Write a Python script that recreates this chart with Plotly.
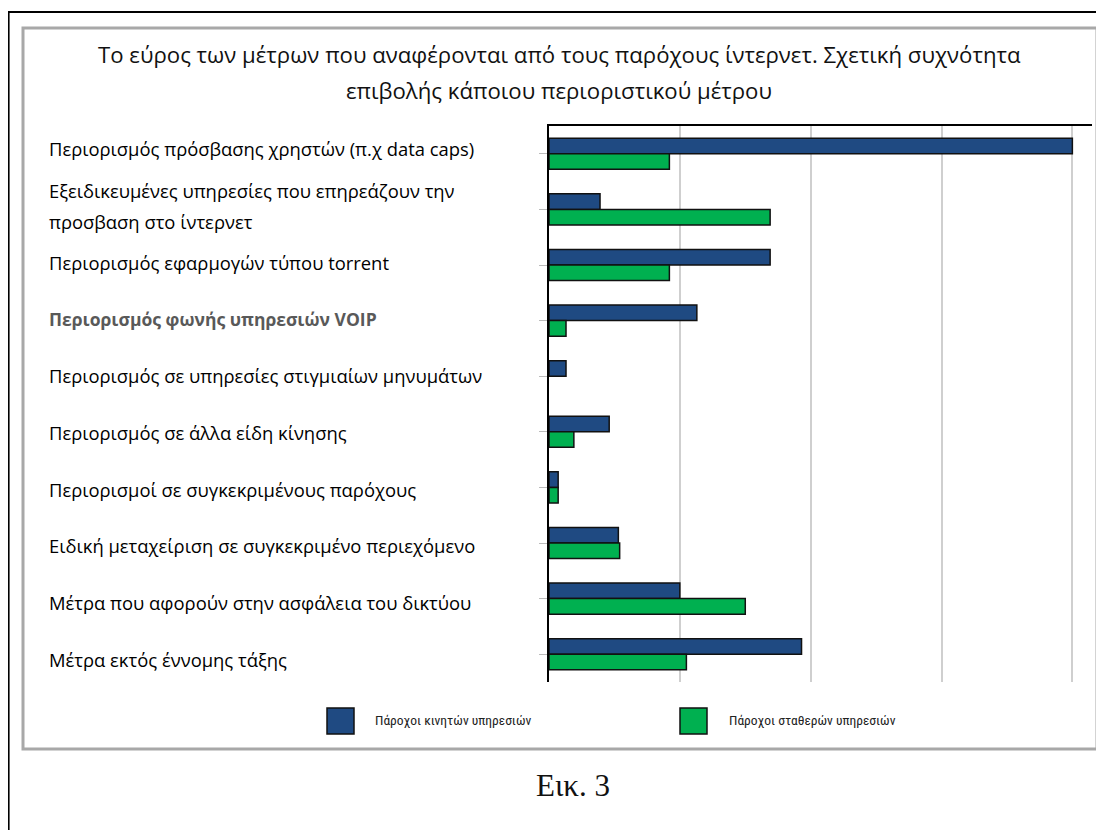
import plotly.graph_objects as go

categories = [
    "Περιορισμός πρόσβασης χρηστών (π.χ data caps)",
    "Εξειδικευμένες υπηρεσίες που επηρεάζουν την<br>προσβαση στο ίντερνετ",
    "Περιορισμός εφαρμογών τύπου torrent",
    "Περιορισμός φωνής υπηρεσιών VOIP",
    "Περιορισμός σε υπηρεσίες στιγμιαίων μηνυμάτων",
    "Περιορισμός σε άλλα είδη κίνησης",
    "Περιορισμοί σε συγκεκριμένους παρόχους",
    "Ειδική μεταχείριση σε συγκεκριμένο περιεχόμενο",
    "Μέτρα που αφορούν στην ασφάλεια του δικτύου",
    "Μέτρα εκτός έννομης τάξης",
]
mobile = [40.0, 3.9, 16.9, 11.3, 1.3, 4.6, 0.7, 5.3, 10.0, 19.3]
fixed = [9.2, 16.9, 9.2, 1.3, None, 1.9, 0.7, 5.4, 15.0, 10.5]
series_names = ["Πάροχοι κινητών υπηρεσιών", "Πάροχοι σταθερών υπηρεσιών"]
title_lines = [
    "Το εύρος των μέτρων που αναφέρονται από τους παρόχους ίντερνετ. Σχετική συχνότητα",
    "επιβολής κάποιου περιοριστικού μέτρου",
]
caption = "Εικ. 3"

# page has an 8px body margin; work in page pixel coords and convert
OFF = 8
W, H = 1104 - OFF, 830 - OFF
PL, PR, PT, PB = 549, 1092, 126, 682          # plot area in page coords
L, R, T, B = PL - OFF, W - (PR - OFF), PT - OFF, H - (PB - OFF)
PW, PH = W - L - R, H - T - B

def px(x):
    return (x - OFF - L) / PW

def py(y):
    return (H - B - (y - OFF)) / PH

BLUE = "#1f4a82"
GREEN = "#00b050"

fig = go.Figure()
fig.add_trace(go.Bar(y=list(range(len(categories))), x=mobile, orientation="h",
                     name=series_names[0], marker=dict(color=BLUE, line=dict(color="#111111", width=1.5))))
fig.add_trace(go.Bar(y=list(range(len(categories))), x=fixed, orientation="h",
                     name=series_names[1], marker=dict(color=GREEN, line=dict(color="#111111", width=1.5))))

annotations = []
label_font = dict(family="Open Sans, Noto Sans, DejaVu Sans", size=18.4, color="#000000")
LABEL_TOP, LABEL_STEP = 149, 56.7
for i, cat in enumerate(categories):
    lines = cat.split("<br>")
    n = len(lines)
    yc = LABEL_TOP + LABEL_STEP * i
    for j, line in enumerate(lines):
        yl = yc + (j - (n - 1) / 2) * 31
        font = dict(label_font)
        text = line
        if "VOIP" in line:
            font = dict(family="Open Sans, Noto Sans, DejaVu Sans", size=17.5, color="#595959")
            text = "<b>" + line + "</b>"
        annotations.append(dict(x=px(47), xref="paper", y=py(yl), yref="paper", text=text,
                                showarrow=False, xanchor="left", yanchor="middle", font=font))

# title lines
for k, tl in enumerate(title_lines):
    annotations.append(dict(x=px(559), xref="paper", y=py(55 + 36 * k), yref="paper", text=tl,
                            showarrow=False, xanchor="center", yanchor="middle",
                            font=dict(family="Open Sans, Noto Sans, DejaVu Sans", size=22.2, color="#111111")))

# legend
legend_font = dict(family="Liberation Sans Narrow, Roboto Condensed, Liberation Sans, Arial", size=13.5, color="#222222")
shapes = []
for (x0, col, tx, name) in [(327, BLUE, 373, series_names[0]), (680, GREEN, 727, series_names[1])]:
    shapes.append(dict(type="rect", xref="paper", yref="paper", x0=px(x0), x1=px(x0 + 27),
                       y0=py(734), y1=py(708), fillcolor=col, line=dict(color="#111111", width=1.5)))
    annotations.append(dict(x=px(tx), xref="paper", y=py(720), yref="paper", text=name,
                            showarrow=False, xanchor="left", yanchor="middle", font=legend_font))

# caption
annotations.append(dict(x=px(573), xref="paper", y=py(785), yref="paper", text=caption,
                        showarrow=False, xanchor="center", yanchor="middle",
                        font=dict(family="Liberation Serif, DejaVu Serif, serif", size=31, color="#111111")))

# frames
shapes.append(dict(type="rect", xref="paper", yref="paper", x0=px(23), x1=px(1097),
                   y0=py(749), y1=py(28), line=dict(color="#a8a8a8", width=3)))
shapes.append(dict(type="line", xref="paper", yref="paper", x0=px(8.6), x1=px(8.6),
                   y0=py(11), y1=py(840), line=dict(color="#000000", width=2)))
shapes.append(dict(type="line", xref="paper", yref="paper", x0=px(8), x1=px(1110),
                   y0=py(12), y1=py(12), line=dict(color="#000000", width=2)))

fig.update_layout(
    width=W, height=H,
    margin=dict(l=L, r=R, t=T, b=B),
    paper_bgcolor="white", plot_bgcolor="white",
    barmode="group", bargap=0.44, bargroupgap=0.0,
    showlegend=False,
    annotations=annotations,
    shapes=shapes,
    xaxis=dict(range=[0, 41.5], dtick=10, side="top", showline=True, linecolor="#000000", linewidth=1.5,
               showgrid=True, gridcolor="#cfcfcf", gridwidth=2, zeroline=False,
               showticklabels=False, ticks="", fixedrange=True),
    yaxis=dict(range=[9.5, -0.5], showline=True, linecolor="#000000", linewidth=1.5,
               showgrid=False, zeroline=False, showticklabels=False,
               tickmode="array", tickvals=list(range(len(categories))),
               ticks="outside", ticklen=8, tickcolor="#bbbbbb", tickson="boundaries", fixedrange=True),
)

fig.write_html("out.html")
